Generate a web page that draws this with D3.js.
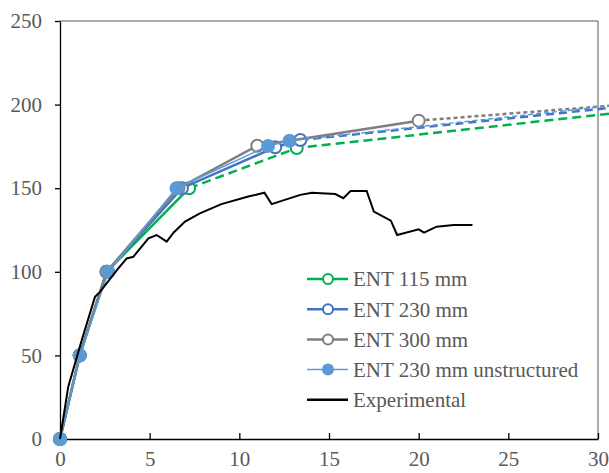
<!DOCTYPE html>
<html lang="en">
<head>
<meta charset="utf-8">
<script src="https://cdn.jsdelivr.net/npm/d3@7"></script>
<style>
body { margin: 0; background: #fff; }
svg { display: block; }
svg text { font-family: "Liberation Serif", "Times New Roman", "DejaVu Serif", serif !important; font-size: 21px !important; fill: #595959 !important; }
.frame { stroke: #595959; stroke-width: 1; fill: none; }
.axis path, .axis line { stroke: #000; stroke-width: 1.3; }
</style>
</head>
<body>
<svg id="chart"></svg>
<script>
// tick values
var xTicks = [0, 5, 10, 15, 20, 25, 30];
var yTicks = [0, 50, 100, 150, 200, 250];

// model series: marked points + dashed trend end point
var ent115X = [0, 1.1, 2.6, 7.2, 13.2];
var ent115Y = [0, 50, 100, 150, 174];
var ent115Trend = [32, 196.2];

var ent230X = [0, 1.1, 2.6, 6.8, 12.0, 13.4];
var ent230Y = [0, 50, 100, 150, 174.5, 178.8];
var ent230Trend = [32, 199.5];

var ent300X = [0, 1.1, 2.6, 6.6, 11.0, 20.0];
var ent300Y = [0, 50, 100, 150, 175.4, 190.4];
var ent300Trend = [32, 200.4];

var unstrX = [0, 1.1, 2.7, 6.5, 11.6, 12.8];
var unstrY = [0, 50, 100, 150, 175.3, 178.4];
var unstrTrend = [32, 200.8];

// experimental curve
var expX = [0, 0.46, 1.21, 1.95, 2.23, 3.25, 3.72, 4.09, 4.93, 5.39, 5.95, 6.33, 6.97, 7.8, 9.0, 10.5, 11.4, 11.8, 13.4, 14.05, 15.35, 15.8, 16.2, 17.1, 17.5, 18.45, 18.8, 20.0, 20.3, 21.0, 21.95, 23.0];
var expY = [0, 31.3, 59, 85, 88, 102, 108, 109, 120, 122, 118, 123.4, 130, 135, 140.5, 145, 147.3, 140.5, 146, 147.3, 146.5, 144, 148.3, 148.3, 136, 130.6, 122, 125.4, 123.4, 127, 128, 128];

var W = 609, H = 473;
var svg = d3.select('#chart').attr('width', W).attr('height', H);

var x = d3.scaleLinear().domain([0, 30]).range([60, 598]);
var y = d3.scaleLinear().domain([0, 250]).range([439, 21]);

// frame top / right
svg.append('path').attr('class', 'frame')
	.attr('d', 'M' + x(0) + ',' + y(250) + 'H' + x(30) + 'V' + y(0));

// axes
svg.append('g').attr('class', 'axis')
	.attr('transform', 'translate(0,' + y(0) + ')')
	.call(d3.axisBottom(x).tickValues(xTicks).tickSizeInner(-6).tickSizeOuter(0).tickPadding(12))
	.attr('font-family', 'Liberation Serif').attr('font-size', 21)
	.selectAll('text').attr('dy', '0.72em');

svg.append('g').attr('class', 'axis')
	.attr('transform', 'translate(' + x(0) + ',0)')
	.call(d3.axisLeft(y).tickValues(yTicks).tickSizeInner(5).tickSizeOuter(0).tickPadding(13))
	.attr('font-family', 'Liberation Serif').attr('font-size', 21);

var line = d3.line().x(function(d){return x(d[0]);}).y(function(d){return y(d[1]);});

var series = [
	{name: 'ENT 115 mm', xs: ent115X, ys: ent115Y, trend: ent115Trend, solidEnd: 3, color: '#00B050', width: 2.5, dash: '9,5', filled: false, r: 6},
	{name: 'ENT 230 mm', xs: ent230X, ys: ent230Y, trend: ent230Trend, solidEnd: 5, color: '#4472C4', width: 2.5, dash: '8,5', filled: false, r: 6},
	{name: 'ENT 300 mm', xs: ent300X, ys: ent300Y, trend: ent300Trend, solidEnd: 5, color: '#7F7F7F', width: 2.5, dash: '4,3', filled: false, r: 6},
	{name: 'ENT 230 mm unstructured', xs: unstrX, ys: unstrY, trend: unstrTrend, solidEnd: 5, color: '#5B9BD5', width: 1.5, dash: '5,3', filled: true, r: 7}
];

series.forEach(function(s){
	var pts = s.xs.map(function(v, i){return [v, s.ys[i]];});
	var g = svg.append('g');
	g.append('path').attr('d', line(pts.slice(0, s.solidEnd + 1)))
		.attr('fill', 'none').attr('stroke', s.color).attr('stroke-width', s.width);
	g.append('path').attr('d', line(pts.slice(s.solidEnd).concat([s.trend])))
		.attr('fill', 'none').attr('stroke', s.color).attr('stroke-width', s.width)
		.attr('stroke-dasharray', s.dash);
	g.selectAll('circle').data(pts).enter().append('circle')
		.attr('cx', function(d){return x(d[0]);})
		.attr('cy', function(d){return y(d[1]);})
		.attr('r', s.r)
		.attr('fill', s.filled ? s.color : '#fff')
		.attr('stroke', s.color).attr('stroke-width', s.filled ? 0 : 2);
});

var expPts = expX.map(function(v, i){return [v, expY[i]];});
svg.append('path').attr('d', line(expPts))
	.attr('fill', 'none').attr('stroke', '#000').attr('stroke-width', 2);

// legend
var legend = svg.append('g').attr('transform', 'translate(307,279)');
var items = series.concat([{name: 'Experimental', color: '#000', width: 2.5, none: true}]);
items.forEach(function(s, i){
	var row = legend.append('g').attr('transform', 'translate(0,' + (i * 30.2) + ')');
	row.append('line').attr('x1', 0).attr('x2', 41).attr('y1', 0).attr('y2', 0)
		.attr('stroke', s.color).attr('stroke-width', s.width);
	if (!s.none) {
		row.append('circle').attr('cx', 21).attr('cy', 0).attr('r', s.filled ? 6 : 5)
			.attr('fill', s.filled ? s.color : '#fff')
			.attr('stroke', s.color).attr('stroke-width', s.filled ? 0 : 2);
	}
	row.append('text').attr('x', 46).attr('y', 0).attr('dy', '0.35em').text(s.name);
});
</script>
</body>
</html>
